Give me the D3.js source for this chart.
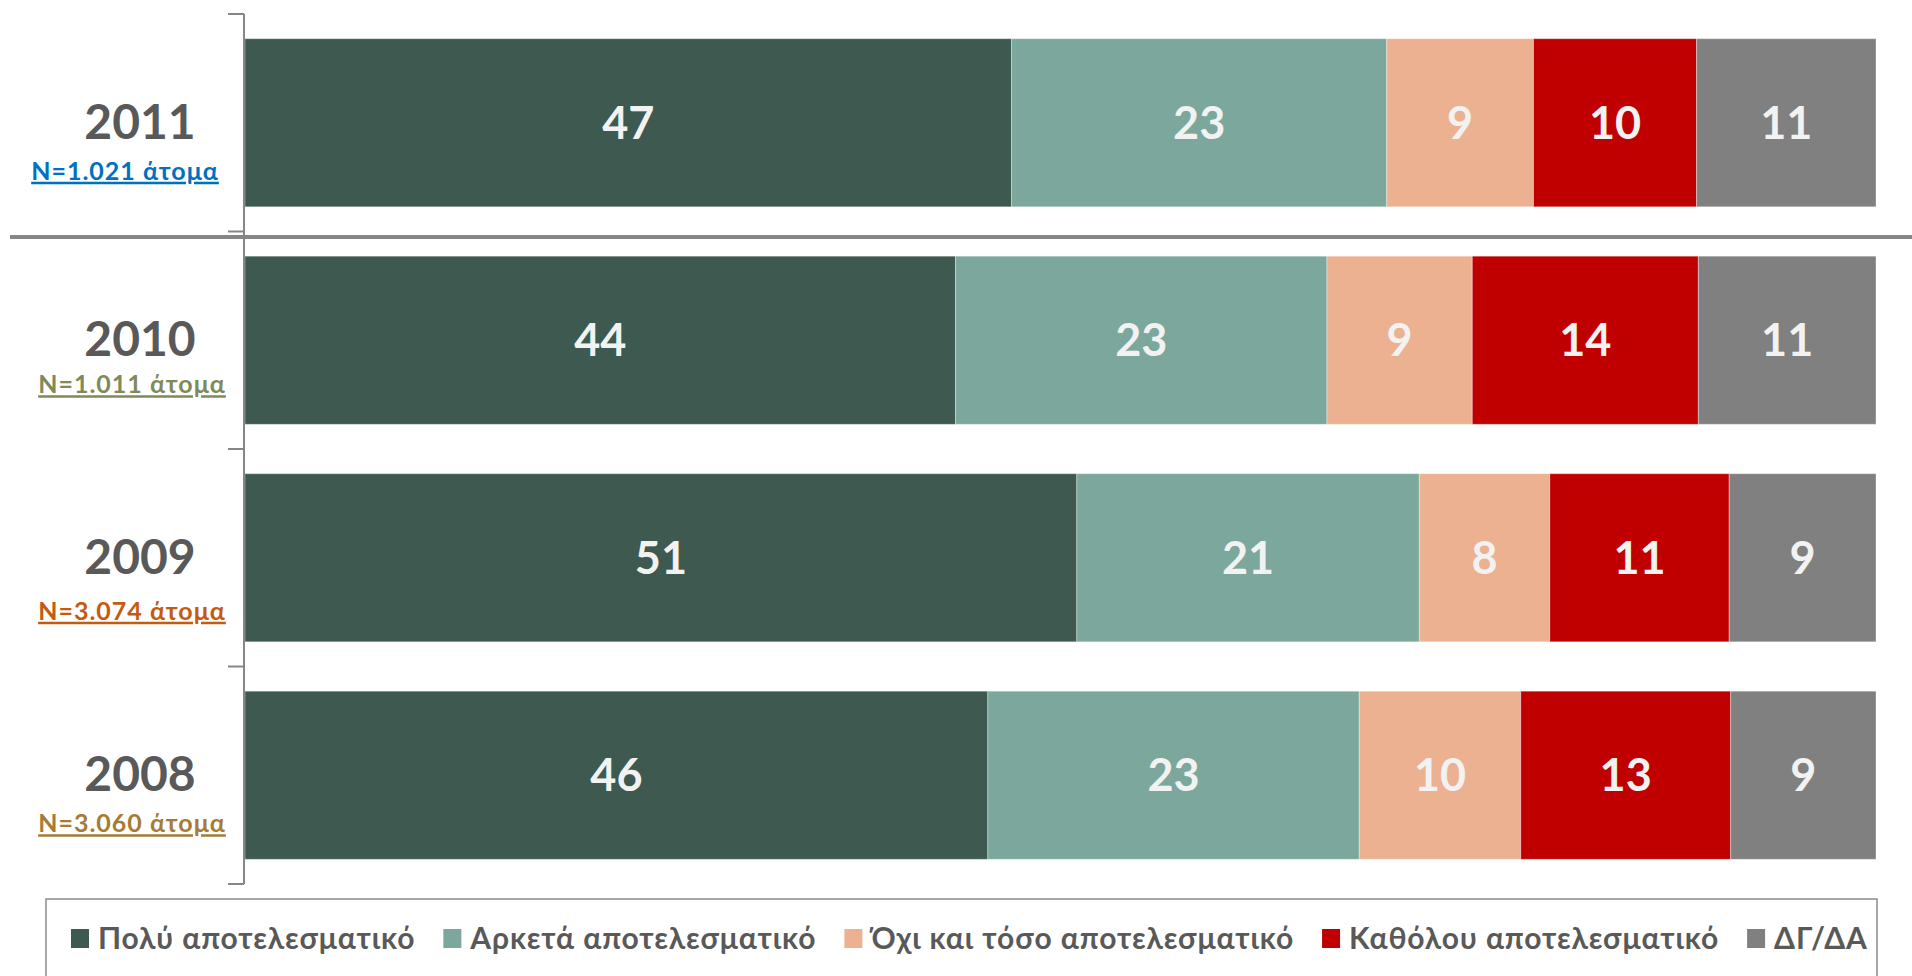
<!DOCTYPE html>
<html>
<head>
<meta charset="utf-8">
<script src="https://cdn.jsdelivr.net/npm/d3@7"></script>
<style>
  html, body { margin: 0; padding: 0; background: #ffffff; }
  svg { display: block; }
  text { font-family: Lato, "Open Sans", "Noto Sans", sans-serif; font-weight: 700; }
</style>
</head>
<body>
<svg id="chart" width="1912" height="976"></svg>
<script>
// ---- data ----
const years = ["2011", "2010", "2009", "2008"];
const sampleLabels = ["N=1.021 άτομα", "N=1.011 άτομα", "N=3.074 άτομα", "N=3.060 άτομα"];
const seriesNames = ["Πολύ αποτελεσματικό", "Αρκετά αποτελεσματικό", "Όχι και τόσο αποτελεσματικό", "Καθόλου αποτελεσματικό", "ΔΓ/ΔΑ"];
const polu     = [47, 44, 51, 46];
const arketa   = [23, 23, 21, 23];
const oxiTosso = [9, 9, 8, 10];
const katholou = [10, 14, 11, 13];
const dgda     = [11, 11, 9, 9];

// ---- styles ----
const seriesColors = ["#3D5950", "#7BA79C", "#ECB191", "#C00000", "#808080"];
const sampleColors = ["#0070C0", "#7F8A5B", "#C55A11", "#A67C34"];
const textGray = "#595959";

const seriesValues = [polu, arketa, oxiTosso, katholou, dgda];
const rows = years.map((y, i) => {
  const vals = seriesValues.map(s => s[i]);
  const total = d3.sum(vals);
  let cum = 0;
  return {
    year: y, idx: i,
    segs: vals.map((v, k) => { const s = { key: k, value: v, x0: cum / total * 100, x1: (cum + v) / total * 100 }; cum += v; return s; })
  };
});

const svg = d3.select("#chart");
const x = d3.scaleLinear().domain([0, 100]).range([245, 1876]);
const y = d3.scaleBand().domain(years).range([14, 884]).paddingInner(0.227).paddingOuter(0.1135);

// bars
const g = svg.append("g");
rows.forEach(r => {
  const rg = g.append("g");
  rg.selectAll("rect").data(r.segs).join("rect")
    .attr("x", d => x(d.x0))
    .attr("y", y(r.year))
    .attr("width", d => x(d.x1) - x(d.x0))
    .attr("height", y.bandwidth())
    .attr("fill", d => seriesColors[d.key])
    .attr("stroke", "rgba(255,255,255,0.35)")
    .attr("stroke-width", 1);
  rg.selectAll("text").data(r.segs).join("text")
    .attr("x", d => (x(d.x0) + x(d.x1)) / 2)
    .attr("y", y(r.year) + y.bandwidth() / 2 + 16)
    .attr("text-anchor", "middle")
    .attr("fill", "#F2F2F2")
    .attr("font-size", 45)
    .text(d => d.value);
});

// axis line with ticks at band boundaries
const step = y.step();
const boundaries = d3.range(years.length + 1).map(i => 14 + i * step);
svg.append("line")
  .attr("x1", 244).attr("x2", 244)
  .attr("y1", boundaries[0]).attr("y2", boundaries[boundaries.length - 1])
  .attr("stroke", "#868686").attr("stroke-width", 2);
svg.selectAll("line.tick").data(boundaries).join("line")
  .attr("class", "tick")
  .attr("x1", 228).attr("x2", 244)
  .attr("y1", d => d).attr("y2", d => d)
  .attr("stroke", "#868686").attr("stroke-width", 2);

// separator line between 2011 and earlier years
svg.append("line")
  .attr("x1", 10).attr("x2", 1912)
  .attr("y1", 237).attr("y2", 237)
  .attr("stroke", "#868686").attr("stroke-width", 4);

// year labels
const yearOffsets = [16, 16, 16, 16];
const nOffsets = [57, 53, 62, 57];
const nCenters = [125, 132, 132, 132];
svg.selectAll("text.year").data(years).join("text")
  .attr("class", "year")
  .attr("x", 140)
  .attr("y", (d, i) => y(d) + y.bandwidth() / 2 + yearOffsets[i])
  .attr("text-anchor", "middle")
  .attr("fill", textGray)
  .attr("font-size", 48)
  .attr("font-weight", 900)
  .text(d => d);
svg.selectAll("text.nlab").data(sampleLabels).join("text")
  .attr("class", "nlab")
  .attr("x", (d, i) => nCenters[i])
  .attr("y", (d, i) => y(years[i]) + y.bandwidth() / 2 + nOffsets[i])
  .attr("text-anchor", "middle")
  .attr("fill", (d, i) => sampleColors[i])
  .attr("font-size", 25)
  .attr("letter-spacing", 1)
  .style("text-decoration", "underline")
  .text(d => d);

// legend
svg.append("rect")
  .attr("x", 46).attr("y", 899).attr("width", 1831).attr("height", 100)
  .attr("fill", "none").attr("stroke", "#8c8c8c").attr("stroke-width", 1.5);
let lx = 71;
seriesNames.forEach((name, k) => {
  svg.append("rect").attr("x", lx).attr("y", 929).attr("width", 18).attr("height", 19)
    .attr("fill", seriesColors[k]);
  const t = svg.append("text").attr("x", lx + 27).attr("y", 949)
    .attr("fill", textGray).attr("font-size", 30).attr("letter-spacing", 0.9).text(name);
  lx += 27 + t.node().getComputedTextLength() + 28;
});
</script>
</body>
</html>
